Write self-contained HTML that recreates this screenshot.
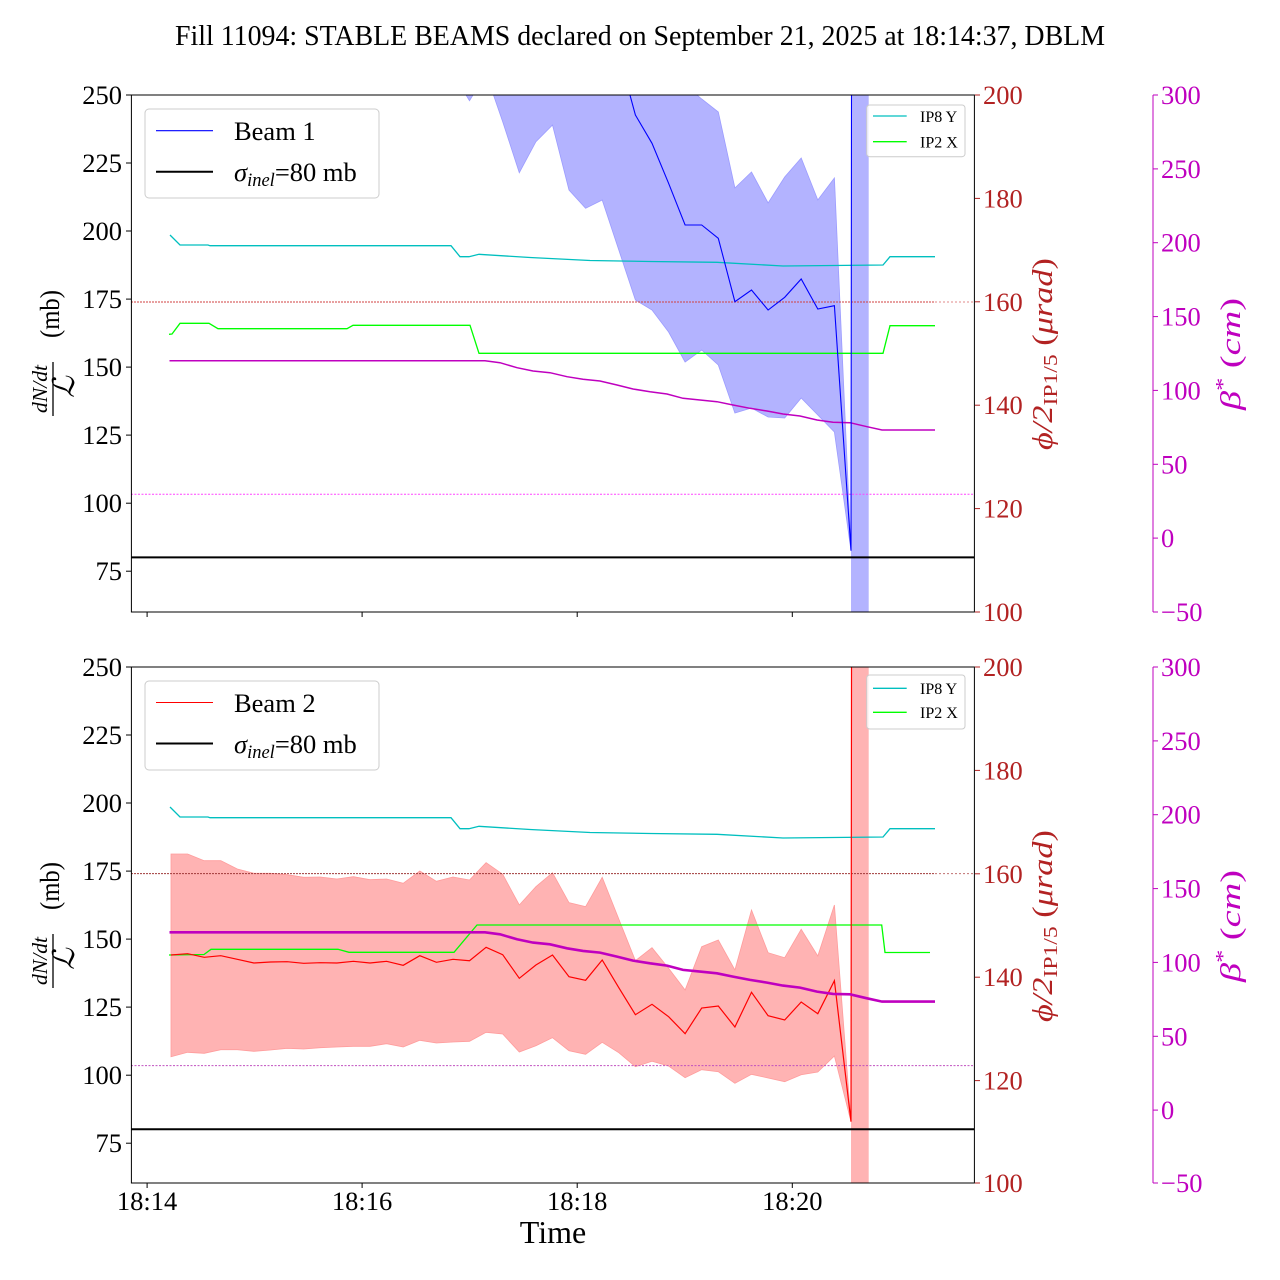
<!DOCTYPE html>
<html><head><meta charset="utf-8"><style>
html,body{margin:0;padding:0;background:#fff;}
svg{display:block;}
text{font-family:"Liberation Serif","DejaVu Serif",serif;}
</style></head><body>
<svg width="1280" height="1280" viewBox="0 0 1280 1280" xmlns="http://www.w3.org/2000/svg">
<defs>
<clipPath id="ct"><rect x="131.4" y="95" width="843" height="517"/></clipPath>
<clipPath id="cb"><rect x="131.4" y="667" width="843" height="516"/></clipPath>
</defs>
<rect width="1280" height="1280" fill="#fff"/>

<text x="640" y="45" font-size="28" text-anchor="middle" textLength="930" lengthAdjust="spacingAndGlyphs">Fill 11094: STABLE BEAMS declared on September 21, 2025 at 18:14:37, DBLM</text>

<!-- ================= TOP PANEL ================= -->
<g clip-path="url(#ct)">
  <polygon fill="#b3b3ff" stroke="#9c9cff" stroke-width="0.8" points="436.4,-100 453,-100 469.5,-100 486.1,-100 502.7,-100 519.3,-100 535.9,-100 552.5,-100 569,-100 585.6,-100 602.2,-100 618.8,-100 635.4,-100 652,-100 668.6,-100 685.1,85 701.7,99 718.3,112 734.9,188 751.5,172 768.1,203 784.7,177 801.2,158 817.8,200 834.4,178 851,550.7 834.4,432 817.8,415 801.2,398 784.7,418 768.1,417 751.5,408 734.9,413 718.3,365 701.7,350 685.1,362 668.6,332 652,310 635.4,300 618.8,250 602.2,200 585.6,208.3 569,190 552.5,125 535.9,141.7 519.3,172.7 502.7,121.7 486.1,73.7 469.5,100.7 453,73.8 436.4,-100"/>
  <rect x="851" y="95" width="17.7" height="517" fill="#b3b3ff"/>
  <line x1="131" y1="302" x2="935" y2="302" stroke="#d04040" stroke-width="1" stroke-dasharray="2,1"/>
  <line x1="935" y1="302" x2="975" y2="302" stroke="#e08a8a" stroke-width="1" stroke-dasharray="2,2"/>
  <line x1="131" y1="494.3" x2="975" y2="494.3" stroke="#ff44ff" stroke-width="1" stroke-dasharray="2,1.5"/>
  <polyline fill="none" stroke="#00bfbf" stroke-width="1.3" points="170,235 180,245 208,245 210,245.7 451,245.7 460,256.7 469,256.7 479,254.3 530,257.5 590,260.5 650,261.5 717,262.3 783,266 883,265 890,256.7 935,256.7"/>
  <polyline fill="none" stroke="#00ff00" stroke-width="1.3" points="169,334.3 172,334 180,323.3 209,323.3 218,328.7 347,328.7 353,325.3 470,325.3 479,353.3 883,353.3 890,325.7 935,325.7"/>
  <polyline fill="none" stroke="#bf00bf" stroke-width="1.5" points="169.5,360.7 485,360.7 500,362.7 517,367.7 533,371 550,372.7 567,376.7 583,379.3 600,381 617,385 633,389 650,391.7 667,394 683,398.3 700,400 717,401.7 733,405 750,408.3 767,411 783,414 800,416 817,420 833,422.3 850,422.7 867,426.7 882,430 935,430"/>
  <polyline fill="none" stroke="#0000ff" stroke-width="1.1" points="618.8,54 635.4,115 652,143.3 668.6,183.3 685.1,225 701.7,225 718.3,238.3 734.9,301.7 751.5,290 768.1,310 784.7,297.3 801.2,279 817.8,309 834.4,305.7 851,550.7 851.7,-100"/>
  <line x1="131" y1="557.4" x2="975" y2="557.4" stroke="#000" stroke-width="2"/>
</g>
<rect x="131.4" y="95" width="843" height="517" fill="none" stroke="#000" stroke-width="1"/>
<!-- top legend -->
<rect x="145" y="109" width="234" height="89" rx="4" fill="#fff" fill-opacity="0.8" stroke="#cccccc" stroke-width="1"/>
<line x1="156" y1="130.7" x2="213" y2="130.7" stroke="#0000ff" stroke-width="1.1"/>
<text x="234" y="140" font-size="26.5">Beam 1</text>
<line x1="156" y1="171.7" x2="213" y2="171.7" stroke="#000" stroke-width="2"/>
<text x="234" y="181" font-size="26.5"><tspan font-style="italic">σ</tspan><tspan font-style="italic" font-size="18.5" dy="5">inel</tspan><tspan dy="-5">=80 mb</tspan></text>
<rect x="866.7" y="105" width="98.3" height="51.7" rx="3" fill="#fff" fill-opacity="0.8" stroke="#cccccc" stroke-width="1"/>
<line x1="873" y1="116" x2="906.7" y2="116" stroke="#00bfbf" stroke-width="1.3"/>
<text x="920" y="122" font-size="16">IP8 Y</text>
<line x1="873" y1="141.7" x2="906.7" y2="141.7" stroke="#00ff00" stroke-width="1.3"/>
<text x="920" y="147.5" font-size="16">IP2 X</text>

<!-- top left ticks -->
<g stroke="#000" stroke-width="1">
<line x1="126" y1="95" x2="131" y2="95"/><line x1="126" y1="163" x2="131" y2="163"/><line x1="126" y1="231" x2="131" y2="231"/><line x1="126" y1="299.1" x2="131" y2="299.1"/><line x1="126" y1="367.1" x2="131" y2="367.1"/><line x1="126" y1="435.1" x2="131" y2="435.1"/><line x1="126" y1="503.2" x2="131" y2="503.2"/><line x1="126" y1="571.2" x2="131" y2="571.2"/>
<line x1="147.1" y1="612" x2="147.1" y2="617"/><line x1="362.1" y1="612" x2="362.1" y2="617"/><line x1="577.2" y1="612" x2="577.2" y2="617"/><line x1="792.3" y1="612" x2="792.3" y2="617"/>
</g>
<g font-size="26.5" text-anchor="end">
<text x="122" y="104">250</text><text x="122" y="172">225</text><text x="122" y="240">200</text><text x="122" y="308">175</text><text x="122" y="376">150</text><text x="122" y="444">125</text><text x="122" y="512">100</text><text x="122" y="580">75</text>
</g>
<!-- top phi axis -->
<g stroke="#b22222" stroke-width="1">
<line x1="975" y1="95" x2="980" y2="95"/><line x1="975" y1="198.4" x2="980" y2="198.4"/><line x1="975" y1="301.8" x2="980" y2="301.8"/><line x1="975" y1="405.2" x2="980" y2="405.2"/><line x1="975" y1="508.6" x2="980" y2="508.6"/><line x1="975" y1="612" x2="980" y2="612"/>
</g>
<g font-size="26.5" fill="#b22222">
<text x="983" y="104">200</text><text x="983" y="207.4">180</text><text x="983" y="310.8">160</text><text x="983" y="414.2">140</text><text x="983" y="517.6">120</text><text x="983" y="621">100</text>
</g>
<!-- top beta axis -->
<line x1="1153" y1="95" x2="1153" y2="612" stroke="#bf00bf" stroke-width="1"/>
<g stroke="#bf00bf" stroke-width="1">
<line x1="1153" y1="95" x2="1158" y2="95"/><line x1="1153" y1="168.9" x2="1158" y2="168.9"/><line x1="1153" y1="242.7" x2="1158" y2="242.7"/><line x1="1153" y1="316.6" x2="1158" y2="316.6"/><line x1="1153" y1="390.4" x2="1158" y2="390.4"/><line x1="1153" y1="464.3" x2="1158" y2="464.3"/><line x1="1153" y1="538.1" x2="1158" y2="538.1"/><line x1="1153" y1="612" x2="1158" y2="612"/>
</g>
<g font-size="26.5" fill="#bf00bf">
<text x="1161" y="104">300</text><text x="1161" y="177.9">250</text><text x="1161" y="251.7">200</text><text x="1161" y="325.6">150</text><text x="1161" y="399.4">100</text><text x="1161" y="473.3">50</text><text x="1161" y="547.1">0</text><text x="1161" y="621">−50</text>
</g>
<!-- top axis labels -->
<g transform="rotate(-90)">
  <text x="-338" y="59" font-size="27" textLength="48" lengthAdjust="spacingAndGlyphs">(mb)</text>
  <text x="-389" y="47" font-size="21" font-style="italic" text-anchor="middle" textLength="48" lengthAdjust="spacingAndGlyphs">dN/dt</text>
  <text x="-387" y="74" font-size="30" font-style="italic" text-anchor="middle">ℒ</text>
  <text x="-354" y="1052" font-size="29" fill="#b22222" text-anchor="middle" textLength="192" lengthAdjust="spacingAndGlyphs"><tspan font-style="italic">ϕ/2</tspan><tspan font-size="20" dy="5">IP1/5</tspan><tspan dy="-5"> (</tspan><tspan font-style="italic">μrad</tspan>)</text>
  <text x="-354" y="1240" font-size="29" fill="#bf00bf" text-anchor="middle" textLength="112" lengthAdjust="spacingAndGlyphs"><tspan font-style="italic">β</tspan><tspan font-size="20" dy="-11">*</tspan><tspan dy="11"> (</tspan><tspan font-style="italic">cm</tspan>)</text>
</g>
<line x1="53" y1="362" x2="53" y2="416" stroke="#000" stroke-width="1.3"/>

<!-- ================= BOTTOM PANEL ================= -->
<g clip-path="url(#cb)">
  <polygon fill="#ffb3b3" stroke="#ff9c9c" stroke-width="0.8" points="171,854 187.6,854 204.2,860.7 220.8,860.7 237.3,869 253.9,873.3 270.5,873.3 287.1,874.7 303.7,877.3 320.3,877 336.9,879 353.4,876.7 370,879.7 386.6,879 403.2,883.3 419.8,871 436.4,881.3 453,877 469.5,880 486.1,862.7 502.7,874.3 519.3,905 535.9,886.7 552.5,872.7 569,902.7 585.6,906.7 602.2,877.3 618.8,919 635.4,960.7 652,947.7 668.6,968.3 685.1,990 701.7,946.7 718.3,940 734.9,970 751.5,910 768.1,952.7 784.7,957.7 801.2,929.3 817.8,956 834.4,905 851,1121.7 834.4,1056 817.8,1072 801.2,1074.7 784.7,1081.7 768.1,1078 751.5,1074.3 734.9,1083.3 718.3,1071.7 701.7,1069.7 685.1,1077.7 668.6,1066 652,1061.3 635.4,1066.7 618.8,1052.7 602.2,1042.3 585.6,1054.3 569,1050.7 552.5,1037.7 535.9,1045.7 519.3,1052 502.7,1034 486.1,1032.3 469.5,1041.3 453,1042 436.4,1043 419.8,1040.3 403.2,1047 386.6,1043.7 370,1046.3 353.4,1046.3 336.9,1047 320.3,1047.7 303.7,1049 287.1,1048.3 270.5,1050 253.9,1051.3 237.3,1049.7 220.8,1049.7 204.2,1053.3 187.6,1052.3 171,1056.7"/>
  <rect x="851" y="667" width="17.7" height="516" fill="#ffb3b3"/>
  <line x1="131" y1="873.6" x2="935" y2="873.6" stroke="#a03a3a" stroke-width="1" stroke-dasharray="2,1"/>
  <line x1="935" y1="873.6" x2="975" y2="873.6" stroke="#c07070" stroke-width="1" stroke-dasharray="2,2"/>
  <line x1="131" y1="1065.6" x2="975" y2="1065.6" stroke="#c050c0" stroke-width="1" stroke-dasharray="2,1.5"/>
  <g transform="translate(0,572)">
    <polyline fill="none" stroke="#00bfbf" stroke-width="1.3" points="170,235 180,245 208,245 210,245.7 451,245.7 460,256.7 469,256.7 479,254.3 530,257.5 590,260.5 650,261.5 717,262.3 783,266 883,265 890,256.7 935,256.7"/>
  </g>
  <polyline fill="none" stroke="#00ff00" stroke-width="1.3" points="169,955 204,954.5 211,949.3 338,949.3 349,952.3 454,952.3 477,925 881.7,925 885,952.5 930,952.5"/>
  <polyline fill="none" stroke="#ff0000" stroke-width="1.2" points="171,955 187.6,953.7 204.2,957.3 220.8,955.7 237.3,959.3 253.9,963 270.5,962 287.1,961.7 303.7,963.3 320.3,962.7 336.9,963 353.4,961.3 370,963 386.6,961.3 403.2,965.3 419.8,955.7 436.4,962.3 453,959.3 469.5,960.7 486.1,947.3 502.7,954.7 519.3,978.3 535.9,965 552.5,955 569,976.7 585.6,980.3 602.2,960 618.8,987.7 635.4,1014.7 652,1004.3 668.6,1016.7 685.1,1033.7 701.7,1008 718.3,1006 734.9,1027 751.5,992.3 768.1,1015.7 784.7,1020 801.2,1002 817.8,1013.7 834.4,980.7 851,1121.7 851.7,500"/>
  <g transform="translate(0,571.6)">
    <polyline fill="none" stroke="#bf00bf" stroke-width="2.6" points="169.5,360.7 485,360.7 500,362.7 517,367.7 533,371 550,372.7 567,376.7 583,379.3 600,381 617,385 633,389 650,391.7 667,394 683,398.3 700,400 717,401.7 733,405 750,408.3 767,411 783,414 800,416 817,420 833,422.3 850,422.7 867,426.7 882,430 935,430"/>
  </g>
  <line x1="131" y1="1129.2" x2="975" y2="1129.2" stroke="#000" stroke-width="2"/>
</g>
<rect x="131.4" y="667" width="843" height="516" fill="none" stroke="#000" stroke-width="1"/>
<!-- bottom legend -->
<rect x="145" y="681" width="234" height="89" rx="4" fill="#fff" fill-opacity="0.8" stroke="#cccccc" stroke-width="1"/>
<line x1="156" y1="702.5" x2="213" y2="702.5" stroke="#ff0000" stroke-width="1.1"/>
<text x="234" y="712" font-size="26.5">Beam 2</text>
<line x1="156" y1="743.5" x2="213" y2="743.5" stroke="#000" stroke-width="2"/>
<text x="234" y="753" font-size="26.5"><tspan font-style="italic">σ</tspan><tspan font-style="italic" font-size="18.5" dy="5">inel</tspan><tspan dy="-5">=80 mb</tspan></text>
<rect x="866.7" y="675" width="98.3" height="54" rx="3" fill="#fff" fill-opacity="0.8" stroke="#cccccc" stroke-width="1"/>
<line x1="873" y1="688.3" x2="906.7" y2="688.3" stroke="#00bfbf" stroke-width="1.3"/>
<text x="920" y="694" font-size="16">IP8 Y</text>
<line x1="873" y1="712.3" x2="906.7" y2="712.3" stroke="#00ff00" stroke-width="1.3"/>
<text x="920" y="718" font-size="16">IP2 X</text>

<g transform="translate(0,572)">
  <g stroke="#000" stroke-width="1">
  <line x1="126" y1="95" x2="131" y2="95"/><line x1="126" y1="163" x2="131" y2="163"/><line x1="126" y1="231" x2="131" y2="231"/><line x1="126" y1="299.1" x2="131" y2="299.1"/><line x1="126" y1="367.1" x2="131" y2="367.1"/><line x1="126" y1="435.1" x2="131" y2="435.1"/><line x1="126" y1="503.2" x2="131" y2="503.2"/><line x1="126" y1="571.2" x2="131" y2="571.2"/>
  <line x1="147.1" y1="611" x2="147.1" y2="616"/><line x1="362.1" y1="611" x2="362.1" y2="616"/><line x1="577.2" y1="611" x2="577.2" y2="616"/><line x1="792.3" y1="611" x2="792.3" y2="616"/>
  </g>
  <g font-size="26.5" text-anchor="end">
  <text x="122" y="104">250</text><text x="122" y="172">225</text><text x="122" y="240">200</text><text x="122" y="308">175</text><text x="122" y="376">150</text><text x="122" y="444">125</text><text x="122" y="512">100</text><text x="122" y="580">75</text>
  </g>
  <g stroke="#b22222" stroke-width="1">
  <line x1="975" y1="95" x2="980" y2="95"/><line x1="975" y1="198.4" x2="980" y2="198.4"/><line x1="975" y1="301.8" x2="980" y2="301.8"/><line x1="975" y1="405.2" x2="980" y2="405.2"/><line x1="975" y1="508.6" x2="980" y2="508.6"/><line x1="975" y1="611" x2="980" y2="611"/>
  </g>
  <g font-size="26.5" fill="#b22222">
  <text x="983" y="104">200</text><text x="983" y="207.4">180</text><text x="983" y="310.8">160</text><text x="983" y="414.2">140</text><text x="983" y="517.6">120</text><text x="983" y="620">100</text>
  </g>
  <line x1="1153" y1="95" x2="1153" y2="611" stroke="#bf00bf" stroke-width="1"/>
  <g stroke="#bf00bf" stroke-width="1">
  <line x1="1153" y1="95" x2="1158" y2="95"/><line x1="1153" y1="168.9" x2="1158" y2="168.9"/><line x1="1153" y1="242.7" x2="1158" y2="242.7"/><line x1="1153" y1="316.6" x2="1158" y2="316.6"/><line x1="1153" y1="390.4" x2="1158" y2="390.4"/><line x1="1153" y1="464.3" x2="1158" y2="464.3"/><line x1="1153" y1="538.1" x2="1158" y2="538.1"/><line x1="1153" y1="611" x2="1158" y2="611"/>
  </g>
  <g font-size="26.5" fill="#bf00bf">
  <text x="1161" y="104">300</text><text x="1161" y="177.9">250</text><text x="1161" y="251.7">200</text><text x="1161" y="325.6">150</text><text x="1161" y="399.4">100</text><text x="1161" y="473.3">50</text><text x="1161" y="547.1">0</text><text x="1161" y="620">−50</text>
  </g>
  <g transform="rotate(-90)">
    <text x="-338" y="59" font-size="27" textLength="48" lengthAdjust="spacingAndGlyphs">(mb)</text>
    <text x="-389" y="47" font-size="21" font-style="italic" text-anchor="middle" textLength="48" lengthAdjust="spacingAndGlyphs">dN/dt</text>
    <text x="-387" y="74" font-size="30" font-style="italic" text-anchor="middle">ℒ</text>
    <text x="-354" y="1052" font-size="29" fill="#b22222" text-anchor="middle" textLength="192" lengthAdjust="spacingAndGlyphs"><tspan font-style="italic">ϕ/2</tspan><tspan font-size="20" dy="5">IP1/5</tspan><tspan dy="-5"> (</tspan><tspan font-style="italic">μrad</tspan>)</text>
    <text x="-354" y="1240" font-size="29" fill="#bf00bf" text-anchor="middle" textLength="112" lengthAdjust="spacingAndGlyphs"><tspan font-style="italic">β</tspan><tspan font-size="20" dy="-11">*</tspan><tspan dy="11"> (</tspan><tspan font-style="italic">cm</tspan>)</text>
  </g>
  <line x1="53" y1="362" x2="53" y2="416" stroke="#000" stroke-width="1.3"/>
</g>

<!-- x tick labels -->
<g font-size="26.5" text-anchor="middle">
<text x="147.1" y="1210">18:14</text><text x="362.1" y="1210">18:16</text><text x="577.2" y="1210">18:18</text><text x="792.3" y="1210">18:20</text>
</g>
<text x="553" y="1243" font-size="32" text-anchor="middle">Time</text>
</svg>
</body></html>
